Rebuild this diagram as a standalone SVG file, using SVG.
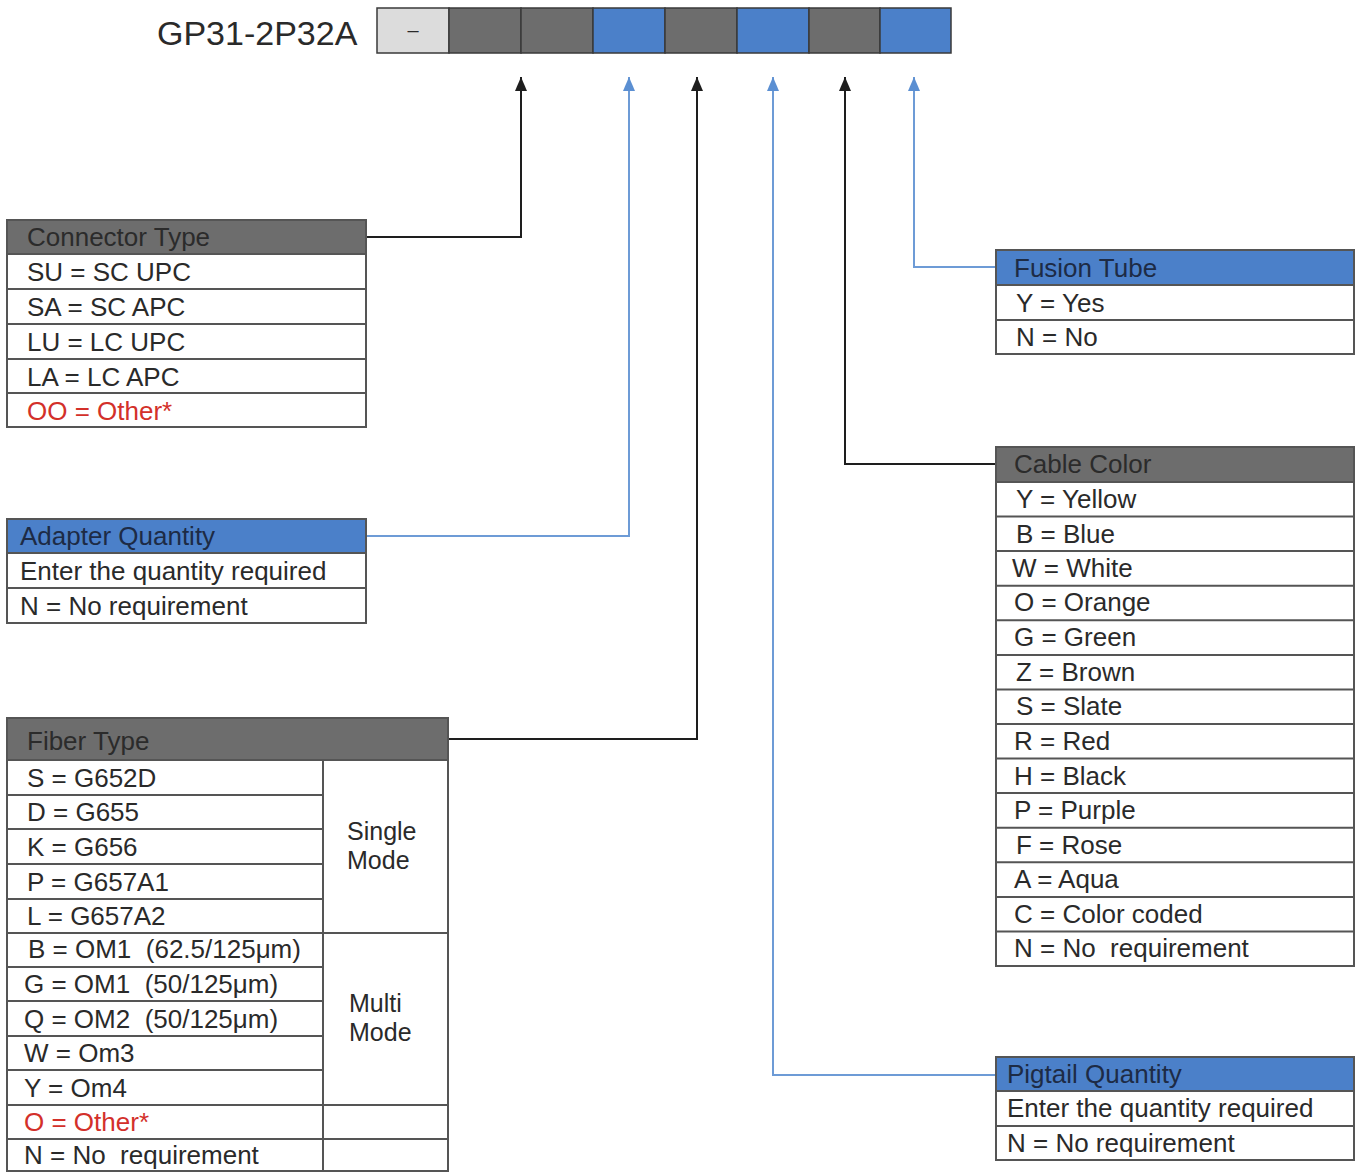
<svg xmlns="http://www.w3.org/2000/svg" width="1360" height="1172" viewBox="0 0 1360 1172">
<style>
text{font-family:"Liberation Sans",Arial,sans-serif;font-size:26px;fill:#2a2a2a;white-space:pre}
.title{font-size:34px;fill:#2a2a2a}
.mode{font-size:25px}
.hdr{fill:#2b2b2b}
.hdrb{fill:#1d2b45}
.red{fill:#d3302a}
.gray{fill:#6d6d6d}
.blue{fill:#4b80c9}
.light{fill:#dcdcdc}
.cellb{stroke:#3a3a3a;stroke-width:1.5}
.body{fill:#ffffff}
.frame{fill:none;stroke:#555;stroke-width:2}
.sep{stroke:#555;stroke-width:2}
.lk{fill:none;stroke:#1e1e1e;stroke-width:2}
.lb{fill:none;stroke:#6d9bd6;stroke-width:2}
</style>
<defs>
<marker id="ak" viewBox="0 0 14 12" refX="14" refY="6" markerWidth="14" markerHeight="12" markerUnits="userSpaceOnUse" orient="auto"><path d="M0,0 L14,6 L0,12 z" fill="#1e1e1e"/></marker>
<marker id="ab" viewBox="0 0 14 12" refX="14" refY="6" markerWidth="14" markerHeight="12" markerUnits="userSpaceOnUse" orient="auto"><path d="M0,0 L14,6 L0,12 z" fill="#5b8fd2"/></marker>
</defs>
<rect width="1360" height="1172" fill="#ffffff"/>

<g id="code">
<text class="title" x="157" y="45">GP31-2P32A</text>
<rect class="light cellb" x="377" y="8" width="72" height="45"/>
<rect class="gray cellb" x="449" y="8" width="72" height="45"/>
<rect class="gray cellb" x="521" y="8" width="72" height="45"/>
<rect class="blue cellb" x="593" y="8" width="72" height="45"/>
<rect class="gray cellb" x="665" y="8" width="72" height="45"/>
<rect class="blue cellb" x="737" y="8" width="72" height="45"/>
<rect class="gray cellb" x="809" y="8" width="71" height="45"/>
<rect class="blue cellb" x="880" y="8" width="71" height="45"/>
<text x="413" y="37" text-anchor="middle" style="font-size:20px">–</text>
</g>

<g id="connectors">
<path class="lk" d="M366,237 H521 V77" marker-end="url(#ak)"/>
<path class="lb" d="M366,536 H629 V77" marker-end="url(#ab)"/>
<path class="lk" d="M448,739 H697 V77" marker-end="url(#ak)"/>
<path class="lb" d="M996,1075 H773 V77" marker-end="url(#ab)"/>
<path class="lk" d="M996,464 H845 V77" marker-end="url(#ak)"/>
<path class="lb" d="M996,267 H914 V77" marker-end="url(#ab)"/>
</g>

<g id="connector-type">
<rect class="body" x="7" y="220" width="359" height="207"/>
<rect class="gray" x="7" y="220" width="359" height="34"/>
<line class="sep" x1="7" y1="254" x2="366" y2="254"/>
<line class="sep" x1="7" y1="289" x2="366" y2="289"/>
<line class="sep" x1="7" y1="324" x2="366" y2="324"/>
<line class="sep" x1="7" y1="359" x2="366" y2="359"/>
<line class="sep" x1="7" y1="393" x2="366" y2="393"/>
<rect class="frame" x="7" y="220" width="359" height="207"/>
<text class="hdr" x="27" y="246">Connector Type</text>
<text x="27" y="281">SU = SC UPC</text>
<text x="27" y="316">SA = SC APC</text>
<text x="27" y="351">LU = LC UPC</text>
<text x="27" y="386">LA = LC APC</text>
<text class="red" x="27" y="420">OO = Other*</text>
</g>

<g id="adapter-quantity">
<rect class="body" x="7" y="519" width="359" height="104"/>
<rect class="blue" x="7" y="519" width="359" height="34"/>
<line class="sep" x1="7" y1="553" x2="366" y2="553"/>
<line class="sep" x1="7" y1="588" x2="366" y2="588"/>
<rect class="frame" x="7" y="519" width="359" height="104"/>
<text class="hdrb" x="20" y="545">Adapter Quantity</text>
<text x="20" y="580">Enter the quantity required</text>
<text x="20" y="615">N = No requirement</text>
</g>

<g id="fiber-type">
<rect class="body" x="7" y="718" width="441" height="453"/>
<rect class="gray" x="7" y="718" width="441" height="42"/>
<line class="sep" x1="7" y1="760" x2="448" y2="760"/>
<line class="sep" x1="7" y1="795" x2="323" y2="795"/>
<line class="sep" x1="7" y1="829" x2="323" y2="829"/>
<line class="sep" x1="7" y1="864" x2="323" y2="864"/>
<line class="sep" x1="7" y1="899" x2="323" y2="899"/>
<line class="sep" x1="7" y1="933" x2="448" y2="933"/>
<line class="sep" x1="7" y1="967" x2="323" y2="967"/>
<line class="sep" x1="7" y1="1001" x2="323" y2="1001"/>
<line class="sep" x1="7" y1="1036" x2="323" y2="1036"/>
<line class="sep" x1="7" y1="1070" x2="323" y2="1070"/>
<line class="sep" x1="7" y1="1105" x2="448" y2="1105"/>
<line class="sep" x1="7" y1="1139" x2="448" y2="1139"/>
<line class="sep" x1="323" y1="760" x2="323" y2="1171"/>
<rect class="frame" x="7" y="718" width="441" height="453"/>
<text class="hdr" x="27" y="750">Fiber Type</text>
<text x="27" y="787">S = G652D</text>
<text x="27" y="821">D = G655</text>
<text x="27" y="856">K = G656</text>
<text x="27" y="891">P = G657A1</text>
<text x="27" y="925">L = G657A2</text>
<text x="28" y="958">B = OM1  (62.5/125μm)</text>
<text x="24" y="993">G = OM1  (50/125μm)</text>
<text x="24" y="1028">Q = OM2  (50/125μm)</text>
<text x="24" y="1062">W = Om3</text>
<text x="24" y="1097">Y = Om4</text>
<text class="red" x="24" y="1131">O = Other*</text>
<text x="24" y="1164">N = No  requirement</text>
<text class="mode" x="347" y="840">Single</text>
<text class="mode" x="347" y="869">Mode</text>
<text class="mode" x="349" y="1012">Multi</text>
<text class="mode" x="349" y="1041">Mode</text>
</g>

<g id="fusion-tube">
<rect class="body" x="996" y="250" width="358" height="104"/>
<rect class="blue" x="996" y="250" width="358" height="35"/>
<line class="sep" x1="996" y1="285" x2="1354" y2="285"/>
<line class="sep" x1="996" y1="320" x2="1354" y2="320"/>
<rect class="frame" x="996" y="250" width="358" height="104"/>
<text class="hdrb" x="1014" y="277">Fusion Tube</text>
<text x="1016" y="312">Y = Yes</text>
<text x="1016" y="346">N = No</text>
</g>

<g id="cable-color">
<rect class="body" x="996" y="447" width="358" height="519"/>
<rect class="gray" x="996" y="447" width="358" height="35"/>
<line class="sep" x1="996" y1="482" x2="1354" y2="482"/>
<line class="sep" x1="996" y1="516.6" x2="1354" y2="516.6"/>
<line class="sep" x1="996" y1="551.1" x2="1354" y2="551.1"/>
<line class="sep" x1="996" y1="585.7" x2="1354" y2="585.7"/>
<line class="sep" x1="996" y1="620.3" x2="1354" y2="620.3"/>
<line class="sep" x1="996" y1="654.9" x2="1354" y2="654.9"/>
<line class="sep" x1="996" y1="689.4" x2="1354" y2="689.4"/>
<line class="sep" x1="996" y1="724" x2="1354" y2="724"/>
<line class="sep" x1="996" y1="758.6" x2="1354" y2="758.6"/>
<line class="sep" x1="996" y1="793.1" x2="1354" y2="793.1"/>
<line class="sep" x1="996" y1="827.7" x2="1354" y2="827.7"/>
<line class="sep" x1="996" y1="862.3" x2="1354" y2="862.3"/>
<line class="sep" x1="996" y1="896.9" x2="1354" y2="896.9"/>
<line class="sep" x1="996" y1="931.4" x2="1354" y2="931.4"/>
<rect class="frame" x="996" y="447" width="358" height="519"/>
<text class="hdr" x="1014" y="473">Cable Color</text>
<text x="1016" y="508">Y = Yellow</text>
<text x="1016" y="543">B = Blue</text>
<text x="1012" y="577">W = White</text>
<text x="1014" y="611">O = Orange</text>
<text x="1014" y="646">G = Green</text>
<text x="1016" y="681">Z = Brown</text>
<text x="1016" y="715">S = Slate</text>
<text x="1014" y="750">R = Red</text>
<text x="1014" y="785">H = Black</text>
<text x="1014" y="819">P = Purple</text>
<text x="1016" y="854">F = Rose</text>
<text x="1014" y="888">A = Aqua</text>
<text x="1014" y="923">C = Color coded</text>
<text x="1014" y="957">N = No  requirement</text>
</g>

<g id="pigtail-quantity">
<rect class="body" x="996" y="1057" width="358" height="103"/>
<rect class="blue" x="996" y="1057" width="358" height="34"/>
<line class="sep" x1="996" y1="1091" x2="1354" y2="1091"/>
<line class="sep" x1="996" y1="1126" x2="1354" y2="1126"/>
<rect class="frame" x="996" y="1057" width="358" height="103"/>
<text class="hdrb" x="1007" y="1083">Pigtail Quantity</text>
<text x="1007" y="1117">Enter the quantity required</text>
<text x="1007" y="1152">N = No requirement</text>
</g>
</svg>
